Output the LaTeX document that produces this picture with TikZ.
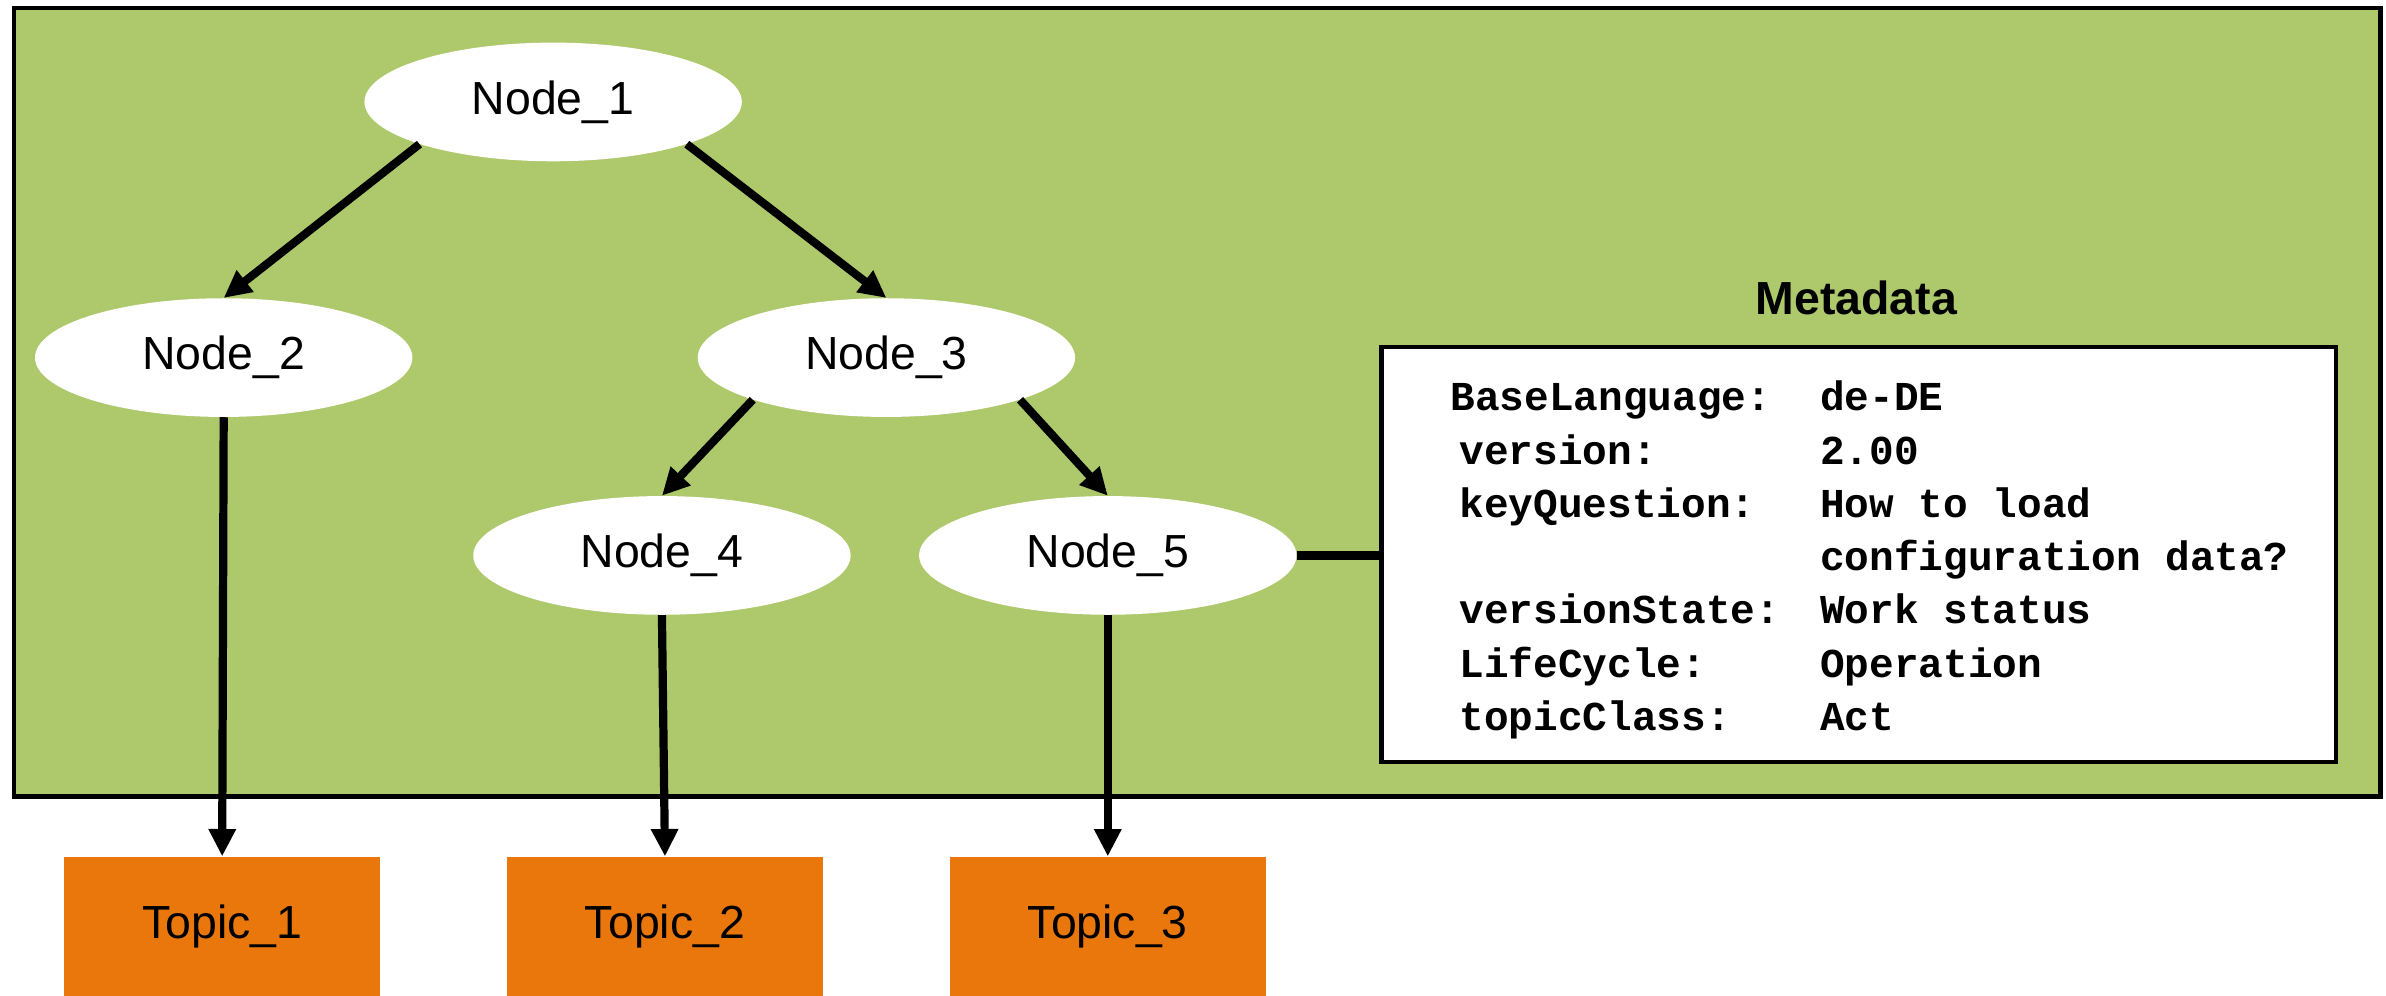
\documentclass[tikz,border=0pt]{standalone}
\usepackage{fontspec}
\setmainfont{Liberation Sans}
\newfontfamily\monofont{Liberation Mono}
\usetikzlibrary{shapes.geometric,arrows.meta}
\definecolor{bggreen}{RGB}{173,201,108}
\definecolor{topicorange}{RGB}{233,119,12}
\begin{document}
\begin{tikzpicture}[x=1pt,y=-1pt,
  treenode/.style={ellipse,fill=white,minimum width=248pt,minimum height=78pt,inner sep=0pt,font=\fontsize{30.5}{36}\selectfont},
  topicbox/.style={rectangle,fill=topicorange,minimum width=208pt,minimum height=92pt,inner sep=0pt,font=\fontsize{30.5}{36}\selectfont},
  conn/.style={line width=5.4pt,-{Triangle[length=18pt,width=17pt]}},
  plainconn/.style={line width=5.4pt},
  metaline/.style={anchor=base west,inner sep=0pt,font=\monofont\bfseries\fontsize{27}{35}\selectfont}]
\useasboundingbox (0,0) rectangle (1568,654.5);
% background
\node[rectangle,draw=black,line width=2.8pt,fill=bggreen,minimum width=1555pt,minimum height=518pt,inner sep=0pt,anchor=north west] (bg) at (8,4) {};
% tree nodes
\node[treenode] (n1) at (363.5,67) {Node\_1};
\node[treenode] (n2) at (147,235) {Node\_2};
\node[treenode] (n3) at (582.5,235) {Node\_3};
\node[treenode] (n4) at (435,365) {Node\_4};
\node[treenode] (n5) at (728,365) {Node\_5};
% topics
\node[topicbox] (t1) at (146,609) {Topic\_1};
\node[topicbox] (t2) at (437,609) {Topic\_2};
\node[topicbox] (t3) at (728,609) {Topic\_3};
% metadata
\node[font=\bfseries\fontsize{30.5}{36}\selectfont,inner sep=0pt] (mtitle) at (1220,195.5) {Metadata};
\node[rectangle,draw=black,line width=2.8pt,fill=white,minimum width=627pt,minimum height=273pt,inner sep=0pt,anchor=north west] (meta) at (906.5,226.5) {};
\node[metaline] (k1) at (953,270) {BaseLanguage:};
\node[metaline] (v1) at (1196,270) {de-DE};
\node[metaline] (k2) at (959,305) {version:};
\node[metaline] (v2) at (1196,305) {2.00};
\node[metaline] (k3) at (959,340) {keyQuestion:};
\node[metaline] (v3) at (1196,340) {How to load};
\node[metaline] (v3b) at (1196,375) {configuration data?};
\node[metaline] (k4) at (959,410) {versionState:};
\node[metaline] (v4) at (1196,410) {Work status};
\node[metaline] (k5) at (959,445) {LifeCycle:};
\node[metaline] (v5) at (1196,445) {Operation};
\node[metaline] (k6) at (959,480) {topicClass:};
\node[metaline] (v6) at (1196,480) {Act};
% connectors
\draw[conn] (n1.south west) -- (n2.north);
\draw[conn] (n1.south east) -- (n3.north);
\draw[conn] (n3.south west) -- (n4.north);
\draw[conn] (n3.south east) -- (n5.north);
\draw[conn] (n2.south) -- (t1.north);
\draw[conn] (n4.south) -- (t2.north);
\draw[conn] (n5.south) -- (t3.north);
\draw[plainconn] (n5.east) -- (n5.east -| meta.west);
\end{tikzpicture}
\end{document}
